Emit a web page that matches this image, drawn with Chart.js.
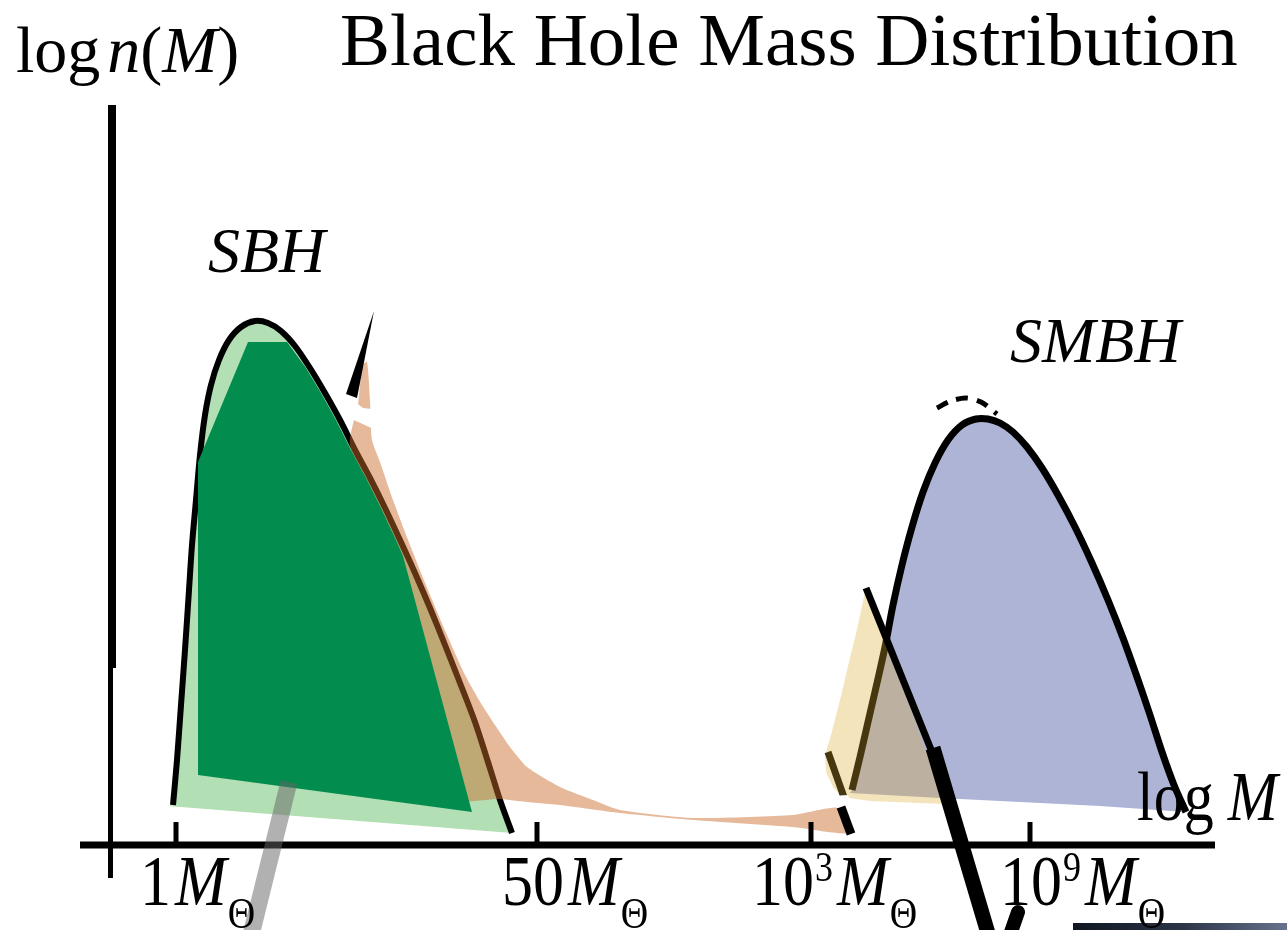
<!DOCTYPE html>
<html>
<head>
<meta charset="utf-8">
<script src="https://cdn.jsdelivr.net/npm/chart.js@4.4.1/dist/chart.umd.min.js"></script>
<style>
  html, body { margin: 0; padding: 0; background: #fff; }
  #wrap { width: 1287px; height: 930px; }
</style>
</head>
<body>
<div id="wrap"><canvas id="chart" width="1287" height="930"></canvas></div>
<script>
// x = position along the log M axis, y = log n(M) above the axis (arbitrary units)

// stellar black hole bump
const sbhX = [6.1, 6.5, 6.9, 7.3, 7.7, 8.0, 8.4, 8.8, 9.3, 9.9, 10.7, 11.7, 12.9, 14.3, 15.6, 16.9, 18.3, 19.8, 21.3, 22.8, 24.3, 25.8, 27.3, 28.8, 30.3, 31.8, 33.3, 34.8, 36.3, 37.6, 38.8, 40.0];
const sbhY = [4.0, 8.5, 14.0, 19.5, 25.5, 30.0, 34.5, 39.0, 43.0, 46.0, 48.5, 50.5, 51.8, 52.4, 52.2, 51.4, 49.9, 47.7, 45.2, 42.5, 39.5, 36.7, 33.7, 30.5, 27.2, 23.7, 20.0, 16.2, 12.3, 8.3, 4.5, 1.2];
// lower edge of the light green band
const sbhBaseX = [40.0, 5.6];
const sbhBaseY = [1.2, 3.9];

// dark green core
const coreX = [8.6, 8.6, 13.6, 17.5, 19.4, 20.9, 22.4, 23.9, 25.4, 26.9, 28.4, 29.1, 36.0];
const coreY = [7.0, 38.3, 50.3, 50.3, 47.7, 45.2, 42.5, 39.5, 36.7, 33.7, 30.5, 28.9, 3.3];

// heavy tail of the stellar population
const tailX = [25.0, 25.5, 25.8, 26.0, 26.8, 28.1, 29.8, 31.6, 33.5, 35.3, 37.0, 38.3, 39.8, 41.5, 44.8, 48.1, 50.8, 58.1, 68.1, 72.8, 73.8, 68.1, 58.1, 50.8, 44.8, 41.5, 38.8, 32.8, 23.8, 24.6];
const tailY = [48.0, 48.3, 44.5, 40.5, 38.3, 34.5, 30.0, 25.5, 21.0, 17.0, 14.0, 12.0, 9.8, 7.8, 5.8, 4.5, 3.5, 2.7, 3.0, 3.7, 1.2, 1.8, 2.5, 3.2, 4.0, 4.3, 4.6, 4.8, 40.0, 44.0];

const spikeX = [26.2, 23.4, 24.5];
const spikeY = [53.4, 45.1, 44.7];
const wedgeX = [23.5, 25.1, 26.8, 26.8, 23.1];
const wedgeY = [44.9, 43.7, 43.5, 41.3, 43.0];

// supermassive black hole bump
const smbhX = [74.0, 74.8, 75.6, 76.5, 77.3, 78.1, 79.0, 80.0, 81.1, 82.3, 83.6, 85.0, 86.4, 87.6, 88.8, 90.1, 91.5, 93.0, 94.6, 96.3, 98.0, 99.6, 101.1, 102.5, 103.8, 105.0, 106.2, 107.4];
const smbhY = [5.5, 8.8, 12.3, 16.2, 19.8, 24.0, 28.0, 31.8, 35.3, 38.2, 40.5, 42.0, 42.6, 42.6, 42.2, 41.3, 39.8, 37.7, 35.0, 31.8, 28.2, 24.5, 20.7, 16.8, 13.0, 9.3, 6.0, 3.3];
const smbhBaseX = [98.8, 82.8, 73.8];
const smbhBaseY = [3.9, 4.7, 5.2];
const peakDashX = [82.5, 83.9, 85.4, 86.9, 88.5];
const peakDashY = [43.7, 44.4, 44.7, 44.3, 43.1];

// intermediate mass wedge
const imbhX = [75.3, 74.6, 73.7, 72.8, 71.9, 71.3, 71.4, 72.1, 73.0, 75.8, 83.3, 75.6];
const imbhY = [25.3, 22.0, 18.3, 14.5, 11.0, 9.0, 7.3, 5.8, 4.8, 4.4, 4.1, 25.5];
const edgeX = [71.6, 73.3];
const edgeY = [9.3, 4.5];
const gapX = [71.8, 73.6, 74.0, 72.9, 72.0];
const gapY = [4.9, 5.0, 4.0, 3.6, 3.9];
const stubX = [72.9, 73.9];
const stubY = [3.8, 1.1];

// pointer strokes
const slashX = [75.4, 82.0];
const slashY = [25.7, 9.3];
const slashLowX = [82.1, 87.8];
const slashLowY = [9.7, -9.5];
const greyX = [17.7, 13.9];
const greyY = [6.3, -9.0];
const footX = [90.6, 89.8];
const footY = [-6.7, -9.0];
const stripX = [96.1, 118, 118, 96.1];
const stripY = [-7.8, -7.8, -9.5, -9.5];

// axes
const axisX = [-3.2, 110.3];
const yAxisTop = [74.0, 17.7];
const yAxisLow = [17.7, -3.3];
const tickPos = [6.4, 42.5, 69.9, 91.8];
const tickLen = 2.3;
const tickBase = ['1', '50', '10', '10'];
const tickExp = ['', '', '3', '9'];
const tickLabelX = [2.8, 39.0, 64.0, 88.8];
const tickLabelY = -6.0;

const titlePos = [22.8, 78.0];
const yTitlePos = [-9.6, 77.3];
const sbhLabelPos = [9.6, 57.3];
const smbhLabelPos = [89.8, 48.3];
const xTitlePos = [102.5, 2.5];

function pts(xs, ys) {
  return xs.map((x, i) => ({ x: x, y: ys[i] }));
}

function area(xs, ys, color) {
  return {
    data: pts(xs, ys), showLine: true, fill: 'shape',
    backgroundColor: color, borderColor: 'transparent', borderWidth: 0,
    pointRadius: 0, tension: 0
  };
}

function stroke(xs, ys, color, width, extra) {
  return Object.assign({
    data: pts(xs, ys), showLine: true, fill: false,
    borderColor: color, borderWidth: width,
    pointRadius: 0, tension: 0
  }, extra || {});
}

const datasets = [
  area(sbhX.concat(sbhBaseX), sbhY.concat(sbhBaseY), '#b3dfb5'),
  stroke(sbhX, sbhY, '#000', 6, { tension: 0.3 }),
  Object.assign(area(tailX, tailY, 'rgba(202,106,43,0.47)'), { tension: 0.2 }),
  area(coreX, coreY, '#028c4e'),
  area(spikeX, spikeY, '#000'),
  area(wedgeX, wedgeY, '#fff'),
  area(smbhX.concat(smbhBaseX), smbhY.concat(smbhBaseY), '#aeb4d6'),
  stroke(smbhX, smbhY, '#000', 7, { tension: 0.3 }),
  stroke(peakDashX, peakDashY, '#000', 5, { tension: 0.3, borderDash: [12, 9] }),
  stroke(edgeX, edgeY, '#000', 7),
  area(imbhX, imbhY, 'rgba(219,172,47,0.32)'),
  area(gapX, gapY, '#fff'),
  stroke(stubX, stubY, '#000', 9),
  stroke(slashX, slashY, '#000', 7),
  stroke(slashLowX, slashLowY, '#000', 15),
  stroke([0, 0], yAxisTop, '#000', 8),
  stroke([-0.15, -0.15], yAxisLow, '#000', 5),
  stroke(axisX, [0, 0], '#000', 7)
];
tickPos.forEach(t => datasets.push(stroke([t, t], [0, tickLen], '#000', 5)));
datasets.push(stroke(greyX, greyY, 'rgba(100,100,100,0.5)', 17));
datasets.push(stroke(footX, footY, '#000', 14, { borderCapStyle: 'round' }));
datasets.push(Object.assign(area(stripX, stripY, '#222'), {
  backgroundColor: function (c) {
    const chart = c.chart;
    if (!chart.chartArea) return '#1a2232';
    const sx = chart.scales.x;
    const g = chart.ctx.createLinearGradient(sx.getPixelForValue(stripX[0]), 0, sx.getPixelForValue(stripX[1]), 0);
    g.addColorStop(0, '#0f1622');
    g.addColorStop(0.5, '#2c3548');
    g.addColorStop(1, '#6a7590');
    return g;
  }
}));
// first dataset at the bottom of the stack
datasets.forEach((d, i) => { d.order = datasets.length - i; });

const serif = '"Liberation Serif", "Times New Roman", serif';
const roman = s => s + 'px ' + serif;
const italic = s => 'italic ' + s + 'px ' + serif;

// draws mixed-style text; k stretches the glyphs vertically
function drawRuns(ctx, x, y, parts, k) {
  k = k || 1;
  parts.forEach(p => {
    ctx.font = p.font;
    x += p.gap || 0;
    ctx.save();
    ctx.translate(x, y + (p.dy || 0));
    ctx.scale(1, k);
    ctx.fillText(p.text, 0, 0);
    ctx.restore();
    x += ctx.measureText(p.text).width;
  });
}

const labelPlugin = {
  id: 'labels',
  afterDraw(chart) {
    const ctx = chart.ctx;
    const sx = chart.scales.x;
    const sy = chart.scales.y;
    const at = p => [sx.getPixelForValue(p[0]), sy.getPixelForValue(p[1])];
    ctx.save();
    ctx.fillStyle = '#000';
    ctx.textBaseline = 'alphabetic';
    ctx.textAlign = 'left';

    let p = at(titlePos);
    drawRuns(ctx, p[0], p[1], [{ text: 'Black Hole Mass Distribution', font: roman(75) }]);

    p = at(yTitlePos);
    drawRuns(ctx, p[0], p[1], [
      { text: 'log', font: roman(66) },
      { text: 'n', font: italic(66), gap: 7 },
      { text: '(', font: roman(66) },
      { text: 'M', font: italic(66) },
      { text: ')', font: roman(66) }
    ]);

    p = at(sbhLabelPos);
    drawRuns(ctx, p[0], p[1], [{ text: 'SBH', font: italic(64) }]);
    p = at(smbhLabelPos);
    drawRuns(ctx, p[0], p[1], [{ text: 'SMBH', font: italic(64) }]);

    p = at(xTitlePos);
    drawRuns(ctx, p[0], p[1], [
      { text: 'log', font: roman(60) },
      { text: 'M', font: italic(60), gap: 14 }
    ], 1.15);

    tickBase.forEach((b, i) => {
      const q = at([tickLabelX[i], tickLabelY]);
      const parts = [{ text: b, font: roman(62) }];
      if (tickExp[i]) parts.push({ text: tickExp[i], font: roman(36), dy: -24, gap: 1 });
      parts.push({ text: 'M', font: italic(62), gap: 4 });
      parts.push({ text: 'Θ', font: roman(38), dy: 23, gap: 1 });
      drawRuns(ctx, q[0], q[1], parts, 1.15);
    });
    ctx.restore();
  }
};

new Chart(document.getElementById('chart'), {
  type: 'scatter',
  data: { datasets: datasets },
  options: {
    responsive: false,
    animation: false,
    events: [],
    layout: { padding: 0 },
    scales: {
      x: { type: 'linear', min: -11.2, max: 117.5, display: false },
      y: { type: 'linear', min: -8.5, max: 84.5, display: false }
    },
    plugins: {
      legend: { display: false },
      tooltip: { enabled: false },
      colors: { enabled: false }
    }
  },
  plugins: [labelPlugin]
});
</script>
</body>
</html>
